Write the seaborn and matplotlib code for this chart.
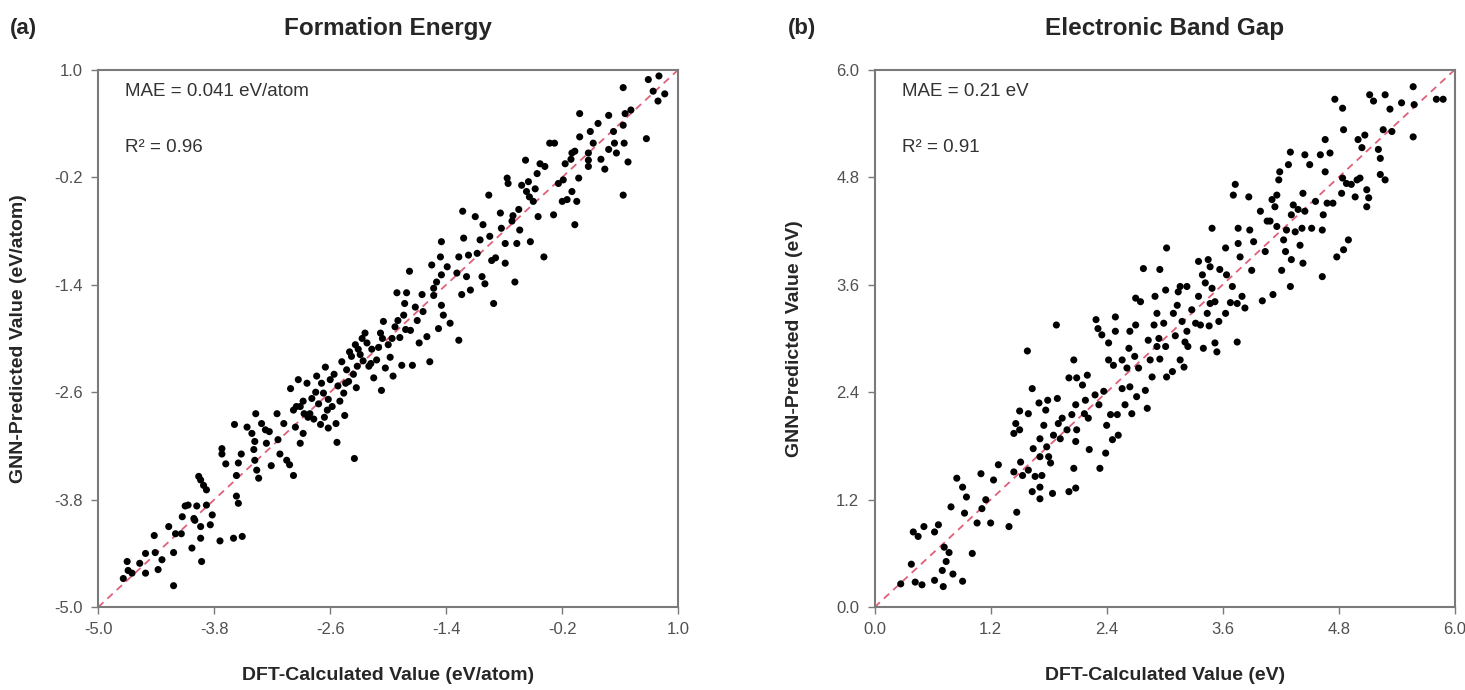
import pandas as pd
import seaborn as sns
import matplotlib.pyplot as plt

# (a) Formation energy, eV/atom
fe_dft = [
    -4.22, -4.74, -4.70, -4.69, -4.65, -4.57, -4.51, -4.51, -4.41, -4.38,
    -4.34, -4.42, -4.27, -4.22, -4.20, -4.14, -4.13, -4.03, -4.00, -3.93,
    -3.94, -3.94, -4.07, -4.10, -3.98, -4.01, -3.88, -3.82, -3.84, -3.96,
    -3.94, -3.91, -3.88, -3.74, -3.60, -3.51, -3.57, -3.55, -3.72, -3.72,
    -3.68, -3.57, -3.55, -3.52, -3.59, -3.46, -3.37, -3.41, -3.38, -3.39,
    -3.36, -3.34, -3.38, -3.31, -3.27, -3.26, -3.23, -3.21, -3.15, -3.14,
    -3.12, -3.08, -3.05, -3.02, -2.98, -2.96, -2.95, -2.91, -2.88, -2.87, -2.83,
    -3.01, -2.93, -2.91, -2.84, -2.81, -2.79, -2.74, -2.72, -2.70, -2.67,
    -2.65, -2.63, -2.62, -2.60, -2.58, -2.53, -2.52, -2.48, -2.46, -2.45,
    -2.43, -2.41, -2.38, -2.34, -2.35, -2.32, -2.31, -2.27, -2.26, -2.24,
    -2.20, -2.17, -2.15, -2.12, -2.08, -2.07, -2.05, -2.03, -2.00, -1.98,
    -1.95, -1.93, -1.91, -1.88, -1.86, -1.84, -1.83, -1.78, -1.77, -1.75,
    -1.70, -1.65, -1.60, -1.57, -1.55, -1.53, -1.48, -1.46, -1.43, -1.45,
    -2.77, -2.75, -2.69, -2.66, -2.62, -2.56, -2.50, -2.44, -2.40, -2.36, -2.29, -2.22,
    -2.18, -2.10, -2.06, -1.96, -1.90, -1.82, -1.72, -1.68, -2.88, -2.98, -2.54, -2.33,
    -1.81, -1.64, -1.53, -1.50, -1.45, -1.45, -1.39, -1.36, -1.29, -1.27,
    -1.27, -1.24, -1.23, -1.22, -1.19, -1.17, -1.15, -1.10, -1.08, -1.05,
    -1.03, -1.02, -1.00, -0.96, -0.95, -0.93, -0.91, -0.89, -0.84, -0.83,
    -0.79, -0.79, -0.77, -0.76, -0.72, -0.71, -0.69, -0.67, -0.65, -0.64,
    -0.62, -0.58, -0.57, -0.55, -0.53, -0.50, -0.48, -0.46, -0.45, -0.43,
    -0.39, -0.38, -0.33, -0.29, -0.28, -0.24, -0.20, -0.19, -0.17, -0.15,
    -0.10, -0.10, -0.07, -0.05, -0.03, -0.02, 0.07, 0.07, 0.12,
    -0.54, -0.11, -0.07, -0.02, 0.07, 0.09, 0.17, 0.20, 0.24, 0.28,
    0.28, 0.33, 0.34, 0.36, 0.43, 0.44, 0.43, 0.45, 0.43, 0.48,
    0.51, 0.67, 0.69, 0.74, 0.79, 0.80, 0.86,
]
fe_gnn = [
    -4.76, -4.68, -4.49, -4.59, -4.62, -4.51, -4.62, -4.40, -4.39, -4.58,
    -4.47, -4.20, -4.10, -4.39, -4.18, -4.18, -3.99, -4.34, -4.03, -4.49,
    -4.23, -4.10, -3.86, -3.87, -3.87, -4.01, -3.86, -3.97, -4.08, -3.54,
    -3.58, -3.64, -3.69, -4.26, -4.23, -4.21, -3.76, -3.84, -3.23, -3.29,
    -3.40, -3.53, -3.39, -3.29, -2.96, -2.99, -2.84, -3.06, -3.15, -3.24,
    -3.47, -3.56, -3.36, -2.95, -3.02, -3.17, -3.04, -3.42, -2.84, -3.13,
    -3.29, -2.95, -3.36, -3.41, -3.53, -2.99, -2.76, -3.17, -3.06, -2.84, -2.88,
    -2.56, -2.46, -2.76, -2.50, -2.84, -2.67, -2.42, -2.73, -2.96, -2.61,
    -2.32, -2.80, -3.00, -2.46, -2.76, -3.16, -2.53, -2.26, -2.61, -2.86,
    -2.35, -2.48, -2.20, -2.07, -3.34, -2.31, -2.12, -2.00, -2.25, -1.94,
    -2.31, -2.12, -2.44, -2.24, -1.94, -2.58, -1.81, -2.33, -2.07, -2.21,
    -2.42, -1.87, -1.49, -1.99, -2.30, -1.74, -1.61, -1.25, -1.91, -2.30,
    -1.80, -1.51, -1.98, -2.26, -1.18, -1.44, -1.89, -1.09, -1.74, -1.29,
    -2.90, -2.60, -2.50, -2.88, -2.68, -2.40, -2.70, -2.50, -2.15, -2.40, -2.18, -2.05,
    -2.28, -2.10, -2.00, -2.00, -1.80, -1.90, -1.65, -2.05, -2.70, -2.80, -2.95, -2.55,
    -1.49, -1.70, -1.52, -1.37, -1.63, -0.92, -1.20, -1.83, -1.27, -1.09,
    -2.02, -1.51, -0.58, -0.88, -1.31, -1.07, -1.46, -0.64, -1.05, -0.90,
    -1.31, -0.73, -1.39, -0.40, -0.86, -1.13, -1.61, -1.10, -0.60, -0.77,
    -0.94, -1.16, -0.21, -0.27, -0.69, -0.63, -1.37, -0.94, -0.56, -0.79,
    -0.29, -0.01, -0.36, -0.25, -0.92, -0.47, -0.33, -0.16, -0.64, -0.05,
    -1.09, -0.08, 0.18, -0.62, 0.18, -0.27, -0.47, -0.23, -0.05, -0.45,
    -0.36, 0.07, -0.73, -0.47, -0.21, 0.25, -0.01, -0.08, 0.18,
    -0.42, 0.00, 0.09, 0.51, 0.07, 0.31, 0.40, 0.00, -0.11, 0.49,
    0.11, 0.31, 0.18, 0.07, 0.80, 0.18, 0.38, 0.51, -0.40, -0.03,
    0.55, 0.23, 0.89, 0.76, 0.65, 0.93, 0.73,
]

# (b) Electronic band gap, eV
bg_dft = [
    0.27, 0.38, 0.42, 0.49, 0.40, 0.45, 0.51, 0.62, 0.66, 0.62,
    0.71, 0.70, 0.74, 0.72, 0.77, 0.81, 0.91, 1.01, 0.79, 0.85,
    0.91, 0.95, 0.93, 1.06, 1.10, 1.11, 1.15, 1.20, 1.23, 1.28,
    1.39, 1.47, 1.44, 1.46, 1.50, 1.44, 1.50, 1.51, 1.53, 1.59,
    1.59, 1.64, 1.63, 1.66, 1.70, 1.71, 1.71, 1.71, 1.73, 1.75,
    1.77, 1.78, 1.79, 1.80, 1.82, 1.84, 1.85, 1.89, 1.90, 1.92,
    1.94, 1.99, 2.01, 2.04, 2.06, 2.08, 2.08, 2.09, 2.08, 2.17,
    2.22, 2.18, 2.21,
    1.58, 1.63, 1.71, 1.88, 2.01, 2.06, 2.09, 2.15, 2.20, 2.28,
    2.29, 2.31, 2.32, 2.33, 2.35, 2.37, 2.39, 2.40, 2.42, 2.42,
    2.44, 2.46, 2.47, 2.49, 2.49, 2.51, 2.52, 2.56, 2.56, 2.59,
    2.61, 2.63, 2.64, 2.64, 2.66, 2.69, 2.70, 2.70, 2.71, 2.73,
    2.75, 2.78, 2.80, 2.82, 2.83, 2.85, 2.87, 2.89, 2.90, 2.92,
    2.92, 2.94, 2.95, 2.95, 2.99, 3.01, 3.01, 3.02, 3.08, 3.09,
    3.11, 3.13, 3.14, 3.16, 3.18, 3.20, 3.21, 3.23, 3.24, 3.28,
    3.32, 3.35, 3.37, 3.39, 3.40, 3.42, 3.44, 3.46, 3.47, 3.49,
    3.52, 3.54, 3.56, 3.57, 3.63, 3.64,
    3.02, 3.16, 3.23, 3.35, 3.45, 3.47, 3.49, 3.52, 3.63, 3.68,
    3.70, 3.71, 3.73, 3.75, 3.75, 3.76, 3.76, 3.78, 3.80, 3.83,
    3.87, 3.88, 3.90, 3.92, 3.99, 4.01, 4.04, 4.06, 4.09, 4.11,
    4.12, 4.14, 4.16, 4.16, 4.18, 4.19, 4.21, 4.23, 4.25, 4.26,
    4.28, 4.30, 4.31, 4.31, 4.33, 4.35, 4.38, 4.40, 4.42, 4.43,
    4.43, 4.45, 4.50, 4.52, 4.56, 4.61, 4.63, 4.63, 4.64, 4.66,
    4.68, 4.71, 4.74, 4.78, 4.83, 4.85, 4.90, 4.88,
    4.30, 4.45, 4.66, 4.76, 4.84, 4.85, 4.84, 4.93, 4.97, 4.99,
    5.00, 5.02, 5.04, 5.07, 5.09, 5.09, 5.11, 5.12, 5.16, 5.23,
    5.21, 5.23, 5.28, 5.26, 5.28, 5.33, 5.35, 5.45, 5.57, 5.58,
    5.57, 5.81, 5.88,
]
bg_gnn = [
    0.26, 0.48, 0.28, 0.25, 0.84, 0.79, 0.90, 0.84, 0.92, 0.30,
    0.23, 0.41, 0.51, 0.67, 0.61, 0.37, 0.29, 0.60, 1.12, 1.44,
    1.34, 1.23, 1.05, 0.94, 1.49, 1.10, 1.20, 0.94, 1.42, 1.59,
    0.90, 1.06, 1.51, 2.05, 1.98, 1.94, 2.19, 1.62, 1.47, 2.16,
    1.53, 1.77, 1.29, 1.46, 2.28, 1.88, 1.34, 1.21, 1.47, 2.03,
    2.20, 1.79, 2.31, 1.68, 1.61, 1.27, 1.92, 2.33, 2.05, 1.88,
    2.11, 1.98, 1.29, 2.15, 1.55, 1.33, 1.85, 1.98, 2.26, 2.16,
    1.76, 2.31, 2.11,
    2.86, 2.44, 1.68, 3.15, 2.56, 2.76, 2.56, 2.48, 2.59, 2.37,
    3.21, 3.11, 2.26, 1.55, 3.04, 2.41, 1.72, 2.03, 2.95, 2.76,
    2.15, 1.87, 2.70, 3.24, 3.08, 2.15, 1.92, 2.44, 2.76, 2.26,
    2.67, 2.89, 3.08, 2.46, 2.16, 2.80, 3.15, 3.45, 2.35, 2.67,
    3.41, 3.78, 2.42, 2.22, 2.98, 2.76, 2.57, 3.15, 3.47, 3.28,
    2.91, 3.00, 3.77, 2.77, 3.17, 2.91, 3.54, 2.57, 2.63, 3.28,
    3.03, 3.37, 3.52, 2.76, 3.19, 2.68, 2.96, 3.58, 2.91, 3.32,
    3.17, 3.47, 3.15, 3.71, 2.89, 3.62, 3.28, 3.14, 3.80, 3.56,
    3.41, 2.85, 3.19, 3.77, 3.28, 3.71,
    4.01, 3.58, 3.08, 3.86, 3.88, 3.39, 4.23, 2.95, 4.01, 3.40,
    3.58, 4.60, 4.72, 3.39, 2.96, 4.23, 4.06, 3.91, 3.47, 3.34,
    4.58, 4.21, 3.76, 4.08, 4.42, 3.42, 3.97, 4.31, 4.31, 4.55,
    3.49, 4.47, 4.25, 4.60, 4.77, 4.86, 3.76, 4.10, 3.97, 4.21,
    4.94, 3.58, 3.88, 4.38, 4.49, 4.19, 4.44, 4.04, 4.23, 4.62,
    3.84, 4.42, 4.94, 4.23, 4.53, 5.05, 3.69, 4.21, 4.38, 4.86,
    4.51, 5.07, 4.51, 3.91, 4.62, 3.99, 4.10, 4.73,
    5.08, 5.05, 5.22, 5.67, 5.57, 5.33, 4.79, 4.72, 4.58, 4.77,
    5.22, 4.79, 5.13, 5.27, 4.66, 4.47, 4.57, 5.72, 5.65, 5.01,
    5.11, 4.83, 4.77, 5.33, 5.72, 5.56, 5.31, 5.63, 5.25, 5.61,
    5.81, 5.67, 5.67,
]

fe_ticks = [-5.0, -3.8, -2.6, -1.4, -0.2, 1.0]
bg_ticks = [0.0, 1.2, 2.4, 3.6, 4.8, 6.0]

sns.set_theme(style="white")
plt.rcParams["font.family"] = ["Liberation Sans", "DejaVu Sans"]
plt.rcParams["axes.unicode_minus"] = False

fig = plt.figure(figsize=(14.65, 6.9), dpi=100)
ax1 = fig.add_axes([0.067, 0.120, 0.396, 0.779])
ax2 = fig.add_axes([0.597, 0.120, 0.396, 0.779])


def panel(ax, x, y, ticks, mae, r2, xlabel, ylabel):
    df = pd.DataFrame({"dft": x, "gnn": y})
    lim = [ticks[0], ticks[-1]]
    ax.plot(lim, lim, ls=(0, (4, 3)), color="#e0607a", lw=1.3, zorder=1)
    sns.scatterplot(data=df, x="dft", y="gnn", ax=ax, color="black",
                    s=26, edgecolor="none", linewidth=0, zorder=2)
    ax.set_xlim(lim)
    ax.set_ylim(lim)
    ax.set_xticks(ticks)
    ax.set_yticks(ticks)
    ax.set_xticklabels([f"{t:.1f}" for t in ticks])
    ax.set_yticklabels([f"{t:.1f}" for t in ticks])
    ax.tick_params(bottom=True, left=True, direction="out", length=5, width=1,
                   color="#7a7a7a", labelcolor="#505050", labelsize=12, pad=6)
    for s in ax.spines.values():
        s.set_color("#7a7a7a")
        s.set_linewidth(1.5)
    ax.set_xlabel(xlabel, fontsize=14, fontweight="bold")
    ax.set_ylabel(ylabel, fontsize=14, fontweight="bold")
    ax.xaxis.set_label_coords(0.5, -0.112)
    ax.yaxis.set_label_coords(-0.123, 0.5)
    ax.text(0.047, 0.959, mae, transform=ax.transAxes, fontsize=13.5,
            color="#333333", va="center")
    ax.text(0.047, 0.855, r2, transform=ax.transAxes, fontsize=13.5,
            color="#333333", va="center")


panel(ax1, fe_dft, fe_gnn, fe_ticks, "MAE = 0.041 eV/atom", "R² = 0.96",
      "DFT-Calculated Value (eV/atom)", "GNN-Predicted Value (eV/atom)")
panel(ax2, bg_dft, bg_gnn, bg_ticks, "MAE = 0.21 eV", "R² = 0.91",
      "DFT-Calculated Value (eV)", "GNN-Predicted Value (eV)")

fig.text(0.265, 0.959, "Formation Energy", fontsize=17.5, fontweight="bold",
         ha="center", va="center")
fig.text(0.795, 0.959, "Electronic Band Gap", fontsize=17.5, fontweight="bold",
         ha="center", va="center")
fig.text(0.007, 0.959, "(a)", fontsize=16, fontweight="bold", va="center")
fig.text(0.538, 0.959, "(b)", fontsize=16, fontweight="bold", va="center")

fig.savefig("out.png", dpi=100)
